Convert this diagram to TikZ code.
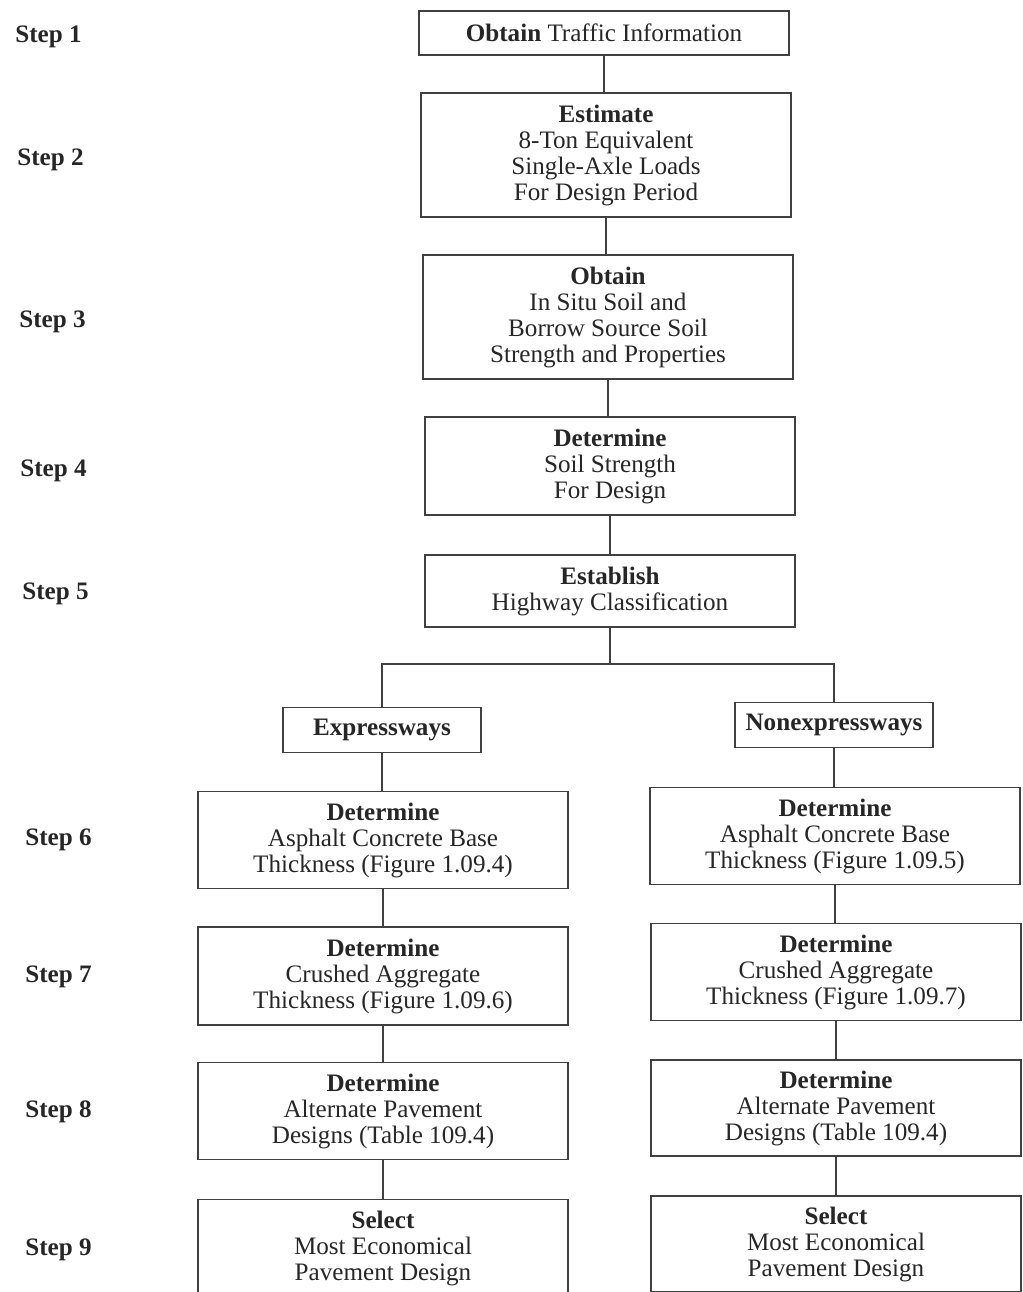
\documentclass[tikz,border=0pt]{standalone}
\usepackage{fontspec}
\setmainfont{Liberation Serif}
\usetikzlibrary{calc}

\begin{document}
\begin{tikzpicture}[x=0.02cm,y=-0.02cm,
    box/.style={draw=black!75,line width=0.9pt,text=black!85,align=center,inner sep=0pt,
      minimum width=7.4cm,font=\fontsize{14.3}{14.8}\selectfont},
    lbl/.style={anchor=west,inner sep=0pt,text=black!85,font=\fontsize{14.3}{14.8}\selectfont\bfseries},
    link/.style={draw=black!75,line width=0.9pt}]
  \path[use as bounding box] (0,0) rectangle (1022,1292);
  \clip (0,0) rectangle (1022,1292);

  % trunk
  \node[box,minimum height=0.88cm] (s1) at (604,33) {\textbf{Obtain} Traffic Information};
  \node[box,minimum height=2.48cm] (s2) at (606,155) {\textbf{Estimate}\\8-Ton Equivalent\\Single-Axle Loads\\For Design Period};
  \node[box,minimum height=2.48cm] (s3) at (608,317) {\textbf{Obtain}\\In Situ Soil and\\Borrow Source Soil\\Strength and Properties};
  \node[box,minimum height=1.96cm] (s4) at (610,466) {\textbf{Determine}\\Soil Strength\\For Design};
  \node[box,minimum height=1.44cm] (s5) at (610,591) {\textbf{Establish}\\Highway Classification};

  % two branches
  \node[box,minimum width=3.96cm,minimum height=0.9cm] (ex) at (382,730) {\textbf{Expressways}};
  \node[box,minimum width=3.96cm,minimum height=0.9cm] (nx) at (834,725) {\textbf{Nonexpressways}};

  \node[box,minimum height=1.94cm] (l6) at (383,840) {\textbf{Determine}\\Asphalt Concrete Base\\Thickness (Figure 1.09.4)};
  \node[box,minimum height=1.96cm] (l7) at (383,976) {\textbf{Determine}\\Crushed Aggregate\\Thickness (Figure 1.09.6)};
  \node[box,minimum height=1.94cm] (l8) at (383,1111) {\textbf{Determine}\\Alternate Pavement\\Designs (Table 109.4)};
  \node[box,minimum height=1.94cm] (l9) at (383,1248) {\textbf{Select}\\Most Economical\\Pavement Design};

  \node[box,minimum height=1.94cm] (r6) at (835,836) {\textbf{Determine}\\Asphalt Concrete Base\\Thickness (Figure 1.09.5)};
  \node[box,minimum height=1.94cm] (r7) at (836,972) {\textbf{Determine}\\Crushed Aggregate\\Thickness (Figure 1.09.7)};
  \node[box,minimum height=1.92cm] (r8) at (836,1108) {\textbf{Determine}\\Alternate Pavement\\Designs (Table 109.4)};
  \node[box,minimum height=1.92cm] (r9) at (836,1244) {\textbf{Select}\\Most Economical\\Pavement Design};

  % step labels
  \foreach[count=\i] \x/\y in {15/37,17/160,19/322,20/471,22/594,25/840,25/977,25/1112,25/1250}
    \node[lbl] (st\i) at (\x,\y) {Step \i};

  % connectors
  \coordinate (fork) at (s5.south |- 0,664);
  \foreach \i/\j in {1/2,2/3,3/4,4/5}
    \draw[link] (s\i.south) -- (s\i.south |- s\j.north);
  \draw[link] (s5.south) -- (fork);
  \draw[link] (fork) -| (ex.north);
  \draw[link] (fork) -| (nx.north);
  \draw[link] (ex.south) -- (ex.south |- l6.north);
  \draw[link] (nx.south) -- (nx.south |- r6.north);
  \foreach \i/\j in {6/7,7/8,8/9} {
    \draw[link] (l\i.south) -- (l\i.south |- l\j.north);
    \draw[link] (r\i.south) -- (r\i.south |- r\j.north);
  }
\end{tikzpicture}
\end{document}
